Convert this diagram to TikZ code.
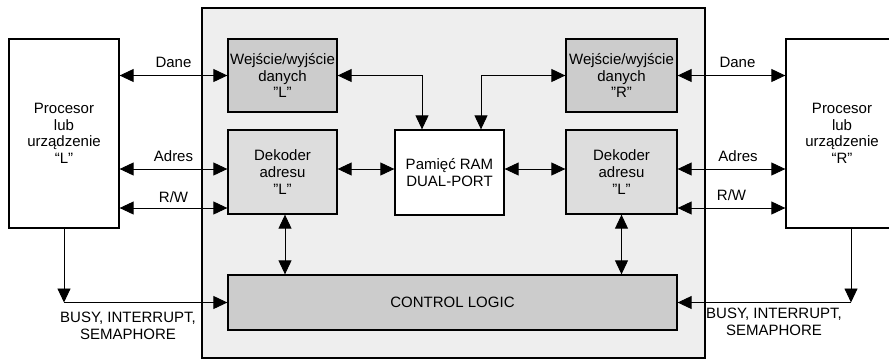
\documentclass[tikz,border=0pt]{standalone}
\usepackage{fontspec}
\setmainfont{Liberation Sans}
\usetikzlibrary{arrows.meta}
\definecolor{bgbox}{HTML}{EEEEEE}
\definecolor{darkbox}{HTML}{CCCCCC}
\definecolor{midbox}{HTML}{DDDDDD}
\newcommand{\sq}{\symbol{34}}
\tikzset{
  blk/.style={draw=black, line width=1.3pt, inner sep=0pt, align=center,
    font=\fontsize{15}{16.6}\selectfont},
  conn/.style={line width=0.9pt, {Triangle[length=14pt,width=13pt]}-{Triangle[length=14pt,width=13pt]}},
  onearr/.style={line width=0.9pt, -{Triangle[length=14pt,width=13pt]}},
  lbl/.style={inner sep=0pt, align=center, font=\fontsize{15}{16.6}\selectfont}
}
\begin{document}
\begin{tikzpicture}[x={(1pt,0)}, y={(0,-1pt)}]
\useasboundingbox (0,0) rectangle (889,360);
% big background box
\node[blk, fill=bgbox, line width=1.1pt, minimum width=503pt, minimum height=350pt] (big) at (453.5,183) {};
% processors
\node[blk, fill=white, minimum width=110pt, minimum height=189pt] (procL) at (64,133.5) {Procesor\\lub\\urządzenie\\“L”};
\node[blk, fill=white, minimum width=112pt, minimum height=189pt] (procR) at (842,133.5) {Procesor\\lub\\urządzenie\\“R”};
% inner blocks
\node[blk, fill=darkbox, minimum width=109pt, minimum height=73pt] (ioL) at (282.5,75.5) {Wejście/wyjście\\danych\\\sq L\sq};
\node[blk, fill=midbox, minimum width=109pt, minimum height=84pt] (decL) at (282.5,172) {Dekoder\\adresu\\\sq L\sq};
\node[blk, fill=white, minimum width=109pt, minimum height=85pt] (ram) at (449.5,172.5) {Pamięć RAM\\DUAL-PORT};
\node[blk, fill=darkbox, minimum width=111pt, minimum height=73pt] (ioR) at (621.5,75.5) {Wejście/wyjście\\danych\\\sq R\sq};
\node[blk, fill=midbox, minimum width=111pt, minimum height=84pt] (decR) at (621.5,172) {Dekoder\\adresu\\\sq L\sq};
\node[blk, fill=darkbox, minimum width=449pt, minimum height=55pt] (ctrl) at (452.5,302.5) {CONTROL LOGIC};
% helper coordinates
\coordinate (adL) at ([yshift=3pt]decL.west);
\coordinate (rwL) at ([yshift=-36pt]decL.west);
\coordinate (adR) at ([yshift=3pt]decR.east);
\coordinate (rwR) at ([yshift=-36pt]decR.east);
\coordinate (dmL) at ([yshift=3pt]decL.east);
\coordinate (dmR) at ([yshift=3pt]decR.west);
\coordinate (ramTL) at ([xshift=-27.5pt]ram.north);
\coordinate (ramTR) at ([xshift=31.5pt]ram.north);
\coordinate (cL) at (procL.south |- ctrl.west);
\coordinate (cRx) at (851,302.5);
% left side connectors
\draw[conn] (procL.east |- ioL.west) -- node[lbl, yshift=13pt] {Dane} (ioL.west);
\draw[conn] (adL -| procL.east) -- node[lbl, yshift=12.5pt] {Adres} (adL);
\draw[conn] (rwL -| procL.east) -- node[lbl, yshift=11pt] {R/W} (rwL);
% right side connectors
\draw[conn] (ioR.east) -- node[lbl, yshift=13pt, xshift=6pt] {Dane} (ioR.east -| procR.west);
\draw[conn] (adR) -- node[lbl, yshift=12.5pt, xshift=6.5pt] {Adres} (adR -| procR.west);
\draw[conn] (rwR) -- node[lbl, yshift=13pt] {R/W} (rwR -| procR.west);
% internal connectors
\draw[conn] (ioL.east) -| (ramTL);
\draw[conn] (ioR.west) -| (ramTR);
\draw[conn] (dmL) -- (dmL -| ram.west);
\draw[conn] (ram.east |- dmR) -- (dmR);
\draw[conn] ([xshift=2.5pt]decL.south) -- ([xshift=2.5pt]decL.south |- ctrl.north);
\draw[conn] (decR.south) -- (decR.south |- ctrl.north);
% busy lines
\draw[onearr] (procL.south) -- (cL);
\draw[onearr] (cL) -- (ctrl.west);
\draw[onearr] (cRx |- procR.south) -- (cRx);
\draw[onearr] (cRx) -- (ctrl.east);
\node[lbl] (busyL) at (128,326) {BUSY, INTERRUPT,\\SEMAPHORE};
\node[lbl] (busyR) at (774,322) {BUSY, INTERRUPT,\\SEMAPHORE};
\end{tikzpicture}
\end{document}
